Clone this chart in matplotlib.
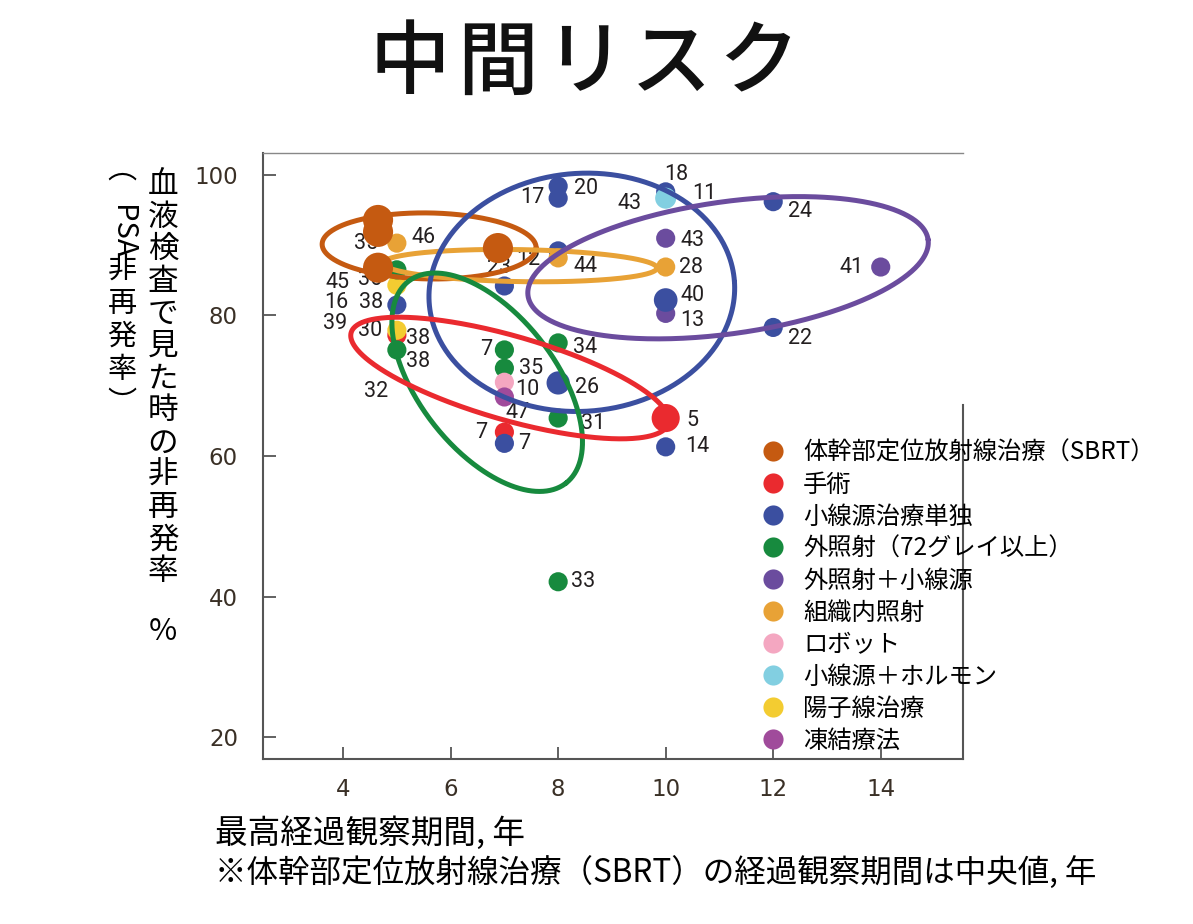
import matplotlib
matplotlib.use('Agg')
import matplotlib.pyplot as plt
import numpy as np
from matplotlib.lines import Line2D

plt.rcParams['font.family'] = ['Noto Sans CJK JP', 'DejaVu Sans']

W, H = 1193, 924

# ---------------- data ----------------
series_names = ['体幹部定位放射線治療（SBRT）', '手術', '小線源治療単独', '外照射（72グレイ以上）',
                '外照射＋小線源', '組織内照射', 'ロボット', '小線源＋ホルモン', '陽子線治療', '凍結療法']
colors = ['#c55a11', '#ea2a2f', '#3b4fa0', '#178a3e', '#6b4c9e',
          '#e8a236', '#f4a7c1', '#82cfe1', '#f3cc31', '#a04b9b']

sbrt_x = [4.65, 4.65, 4.65, 6.88]
sbrt_y = [93.6, 91.9, 86.8, 89.6]
sbrt_lbl = ['', '', '', '']

surgery_x = [5, 7, 10]
surgery_y = [77.2, 63.4, 65.4]
surgery_lbl = ['32', '7', '5']

brachy_x = [5, 7, 8, 8, 8, 8, 7, 10, 12, 10, 12, 10]
brachy_y = [81.5, 84.2, 89.2, 98.4, 96.7, 70.4, 61.8, 97.6, 96.2, 82.2, 78.3, 61.3]
brachy_lbl = ['38', '23', '12', '20', '17', '26', '7', '18', '24', '40', '22', '14']

ebrt_x = [5, 5, 7, 7, 8, 8, 8]
ebrt_y = [86.5, 75.1, 75.1, 72.5, 76.1, 65.4, 42.1]
ebrt_lbl = ['', '38', '7', '35', '34', '31', '33']

combo_x = [10, 10, 14]
combo_y = [91.0, 80.3, 86.9]
combo_lbl = ['43', '13', '41']

hdr_x = [5, 8, 10]
hdr_y = [90.3, 88.2, 86.9]
hdr_lbl = ['46', '44', '28']

robot_x = [7]
robot_y = [70.5]
robot_lbl = ['10']

horm_x = [10]
horm_y = [96.7]
horm_lbl = ['43']

proton_x = [5, 5]
proton_y = [84.3, 77.9]
proton_lbl = ['36', '30']

cryo_x = [7]
cryo_y = [68.4]
cryo_lbl = ['47']

x_ticks = [4, 6, 8, 10, 12, 14]
y_ticks = [20, 40, 60, 80, 100]

# ---------------- styles (separate from data) ----------------
S = 190
series = [
    # (index, xs, ys, labels, sizes, label offsets in pixels)
    (1, surgery_x, surgery_y, surgery_lbl, [S, S, 410], [(-21, -56), (-23, 0), (27, -2)]),
    (4, combo_x, combo_y, combo_lbl, [S, S, S], [(27, -2), (27, -7), (-29, 0)]),
    (2, brachy_x, brachy_y, brachy_lbl, [S, S, S, S, S, 280, S, S, S, 290, S, S],
     [(-26, 2), (-5, 18), (-30, -9), (28, -2), (-26, 1), (29, -5), (20, 0),
      (11, 17), (27, -10), (27, 5), (27, -11), (32, 0)]),
    (8, proton_x, proton_y, proton_lbl, [S, S], [(-27, 6), (-27, 0)]),
    (3, ebrt_x, ebrt_y, ebrt_lbl, [S] * 7,
     [(0, 0), (21, -12), (-18, 0), (27, 0), (27, -5), (35, -5), (25, 0)]),
    (5, hdr_x, hdr_y, hdr_lbl, [S, S, S], [(27, 6), (27, -9), (25, 0)]),
    (6, robot_x, robot_y, robot_lbl, [S], [(23, -7)]),
    (7, horm_x, horm_y, horm_lbl, [230], [(-36, -5)]),
    (9, cryo_x, cryo_y, cryo_lbl, [S], [(13, -16)]),
]
# additional labels attached to points: (x, y, text, dx, dy)
extra_labels = [
    (brachy_x[0], brachy_y[0], '16', -61, 2),
    (proton_x[1], proton_y[1], '39', -62, 7),
    (proton_x[1], proton_y[1], '38', 21, -8),
    (proton_x[0], proton_y[0], '45', -59, 3),
    (horm_x[0], horm_y[0], '11', 39, 5),
    (hdr_x[0], hdr_y[0], '35', -31, 0),
]

# grouping ellipses: series index, centre (data), semi-axes (px), angle (deg)
ellipses = [
    (0, 5.60, 89.9, 107, 33, -1),
    (5, 7.29, 87.1, 137, 16, -1),
    (2, 8.44, 83.3, 153, 119, 4),
    (4, 11.16, 86.8, 202, 66, 8),
    (3, 6.68, 70.5, 128, 68, -52),
    (1, 7.10, 71.1, 165, 42, -16),
]

# ---------------- figure ----------------
fig = plt.figure(figsize=(W / 100, H / 100), dpi=100)
ax_l, ax_r, ax_t, ax_b = 263, 963, 153, 759
ax = fig.add_axes([ax_l / W, 1 - ax_b / H, (ax_r - ax_l) / W, (ax_b - ax_t) / H])
ax.set_xlim(2.51, 15.53)
ax.set_ylim(16.87, 103.13)

spine_col = '#555555'
for side in ['left', 'bottom', 'top', 'right']:
    ax.spines[side].set_color(spine_col)
    ax.spines[side].set_linewidth(1.5)
ax.spines['top'].set_linewidth(1.0)
ax.spines['top'].set_color('#888888')
ax.spines['right'].set_bounds(16.87, 67.3)

ax.set_xticks(x_ticks)
ax.set_yticks(y_ticks)
tick_font = ['Liberation Sans Narrow', 'DejaVu Sans']
ax.tick_params(direction='in', length=9, width=1.3, color=spine_col, labelcolor='#3a3026')
ax.tick_params(axis='y', pad=18, labelsize=16.5)
ax.tick_params(axis='x', pad=14, labelsize=16.5)
for lab in ax.get_xticklabels() + ax.get_yticklabels():
    lab.set_family(tick_font)

label_font = ['Roboto', 'DejaVu Sans']
for idx, xs, ys, lbls, sizes, offs in series:
    ax.scatter(xs, ys, s=sizes, color=colors[idx], edgecolors='none', zorder=3)
    for xv, yv, t, (dx, dy) in zip(xs, ys, lbls, offs):
        if t:
            ax.annotate(t, (xv, yv), xytext=(dx, dy), textcoords='offset pixels',
                        ha='center', va='center', fontsize=15.5, color='#231f20',
                        family=label_font, zorder=3.5)
for xv, yv, t, dx, dy in extra_labels:
    ax.annotate(t, (xv, yv), xytext=(dx, dy), textcoords='offset pixels',
                ha='center', va='center', fontsize=15.5, color='#231f20',
                family=label_font, zorder=3.5)

# SBRT large markers on top
ax.scatter(sbrt_x, sbrt_y, s=470, color=colors[0], edgecolors='none', zorder=6)

# ellipses: computed in display pixels, converted to data
fig.canvas.draw()
tr = ax.transData
inv = tr.inverted()
t = np.linspace(0, 2 * np.pi, 400)
for idx, cx, cy, a, b, ang in ellipses:
    c = tr.transform((cx, cy))
    th = np.deg2rad(ang)
    px = c[0] + a * np.cos(t) * np.cos(th) - b * np.sin(t) * np.sin(th)
    py = c[1] + a * np.cos(t) * np.sin(th) + b * np.sin(t) * np.cos(th)
    d = inv.transform(np.column_stack([px, py]))
    ax.plot(d[:, 0], d[:, 1], color=colors[idx], lw=3.6, zorder=4, solid_capstyle='round')

# legend
handles = [Line2D([0], [0], marker='o', linestyle='none', markersize=14.5,
                  markerfacecolor=c, markeredgecolor='none') for c in colors]
leg = ax.legend(handles, series_names, loc='upper left',
                bbox_to_anchor=((758 - ax_l) / (ax_r - ax_l), (ax_b - 440) / (ax_b - ax_t)),
                frameon=False, fontsize=17.5, handlelength=1.23, handletextpad=0.62,
                labelspacing=0.245, borderpad=0, borderaxespad=0)
leg.set_zorder(7)

# title (spaced characters)
for i, ch in enumerate('中間リスク'):
    fig.text((410 + i * 87) / W, 1 - 64 / H, ch, ha='center', va='center',
             fontsize=58, fontweight='medium', color='#111111')

# vertical y-axis label
col1 = list('血液検査で見た時の非再発率')
for i, ch in enumerate(col1):
    fig.text(163 / W, 1 - (185 + i * 32.25) / H, ch, ha='center', va='center', fontsize=22)
fig.text(163 / W, 1 - 632 / H, '%', ha='center', va='center', fontsize=22)

col2 = [('︵', 170, 0), ('PSA', 232, -90), ('非', 271, 0), ('再', 304, 0),
        ('発', 337, 0), ('率', 370, 0), ('︶', 404, 0)]
for ch, yy, rot in col2:
    fig.text(122 / W, 1 - yy / H, ch, ha='center', va='center', fontsize=21, rotation=rot)

# bottom notes
fig.text(215 / W, 1 - 833 / H, '最高経過観察期間, 年', ha='left', va='center', fontsize=23.5)
fig.text(215 / W, 1 - 873 / H, '※体幹部定位放射線治療（SBRT）の経過観察期間は中央値, 年',
         ha='left', va='center', fontsize=22.7)

fig.savefig('out.png', dpi=100)
